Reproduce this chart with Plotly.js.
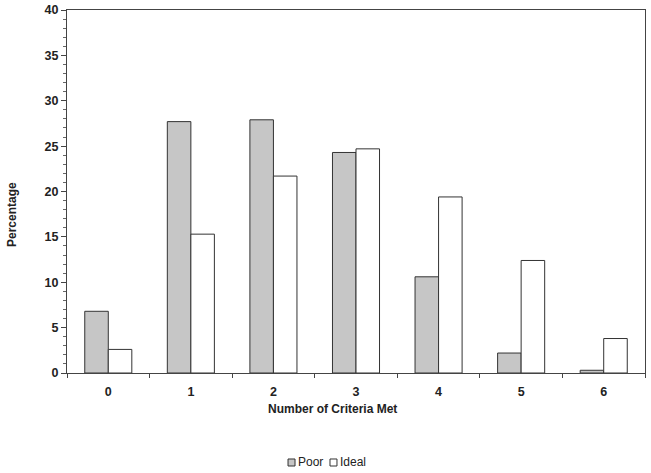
<!DOCTYPE html>
<html>
<head>
<meta charset="utf-8">
<script src="https://cdn.plot.ly/plotly-3.0.1.min.js"></script>
<style>
  html, body { margin: 0; padding: 0; background: #fff; }
  #chart_div { width: 651px; height: 473px; }
</style>
</head>
<body>
<div id="chart_div"></div>
<script>
// criteria met (categories) and the percentage of each group
var criteria = ['0', '1', '2', '3', '4', '5', '6'];
var poor_pct = [6.8, 27.7, 27.9, 24.3, 10.6, 2.2, 0.3];
var ideal_pct = [2.6, 15.3, 21.7, 24.7, 19.4, 12.4, 3.8];

var series_names = ['Poor', 'Ideal'];
var series_fill = ['#c6c6c6', '#ffffff'];

var font_family = 'Arial, "Liberation Sans", sans-serif';
var edge = '#333333';

var data = [
  {
    x: criteria,
    y: poor_pct,
    name: series_names[0],
    type: 'bar',
    marker: { color: series_fill[0], line: { color: edge, width: 1 } }
  },
  {
    x: criteria,
    y: ideal_pct,
    name: series_names[1],
    type: 'bar',
    marker: { color: series_fill[1], line: { color: edge, width: 1 } }
  }
];

//small legend drawn underneath: little square + name for each series
//(plotly's own legend swatches are too big for this look)
var legend_x = [0.3824, 0.4550];  //paper x of each square's left edge
var sq_w = 0.0121, sq_top = -0.2369, sq_bot = -0.2562;
var shapes = [];
var annotations = [];
for (var i = 0; i < series_names.length; i++) {
  shapes.push({
    type: 'rect', xref: 'paper', yref: 'paper',
    x0: legend_x[i], x1: legend_x[i] + sq_w, y0: sq_bot, y1: sq_top,
    fillcolor: series_fill[i], line: { color: edge, width: 1 }
  });
  annotations.push({
    xref: 'paper', yref: 'paper',
    x: legend_x[i] + sq_w + 0.001, y: (sq_top + sq_bot) / 2,
    xanchor: 'left', yanchor: 'middle',
    text: series_names[i], showarrow: false,
    font: { size: 12, color: '#222222' }
  });
}

//axis titles sit a bit off-centre in the original, so they are annotations
annotations.push({
  xref: 'paper', yref: 'paper', x: 0.46, y: -0.099,
  xanchor: 'center', yanchor: 'middle',
  text: '<b>Number of Criteria Met</b>', showarrow: false,
  font: { size: 12, color: '#222222' }
});
annotations.push({
  xref: 'paper', yref: 'paper', x: -0.0952, y: 0.438,
  xanchor: 'center', yanchor: 'middle', textangle: -90,
  text: '<b>Percentage</b>', showarrow: false,
  font: { size: 12, color: '#222222' }
});

var layout = {
  width: 651,
  height: 473,
  margin: { l: 67, r: 6, t: 10, b: 100 },
  paper_bgcolor: '#ffffff',
  plot_bgcolor: '#ffffff',
  font: { family: font_family, size: 12, color: '#222222' },
  barmode: 'group',
  bargap: 0.43,
  bargroupgap: 0,
  showlegend: false,
  shapes: shapes,
  annotations: annotations,
  xaxis: {
    type: 'category',
    automargin: false,
    tickfont: { size: 12.5 },
    tickprefix: '<b>', ticksuffix: '</b>',
    ticklabelstandoff: 7,
    showline: true, linecolor: '#444444', linewidth: 1,
    mirror: true,
    ticks: 'outside', ticklen: 4, tickcolor: '#444444',
    tickson: 'boundaries',
    showgrid: false,
    zeroline: false
  },
  yaxis: {
    range: [0, 40],
    dtick: 5,
    automargin: false,
    tickfont: { size: 12.5 },
    tickprefix: '<b>', ticksuffix: '</b>',
    showline: true, linecolor: '#444444', linewidth: 1,
    mirror: true,
    ticks: 'outside', ticklen: 5, tickcolor: '#444444',
    minor: { dtick: 1, ticks: 'outside', ticklen: 3, tickcolor: '#666666' },
    showgrid: false,
    zeroline: false
  }
};

Plotly.newPlot('chart_div', data, layout, { displayModeBar: false, staticPlot: true });
</script>
</body>
</html>
